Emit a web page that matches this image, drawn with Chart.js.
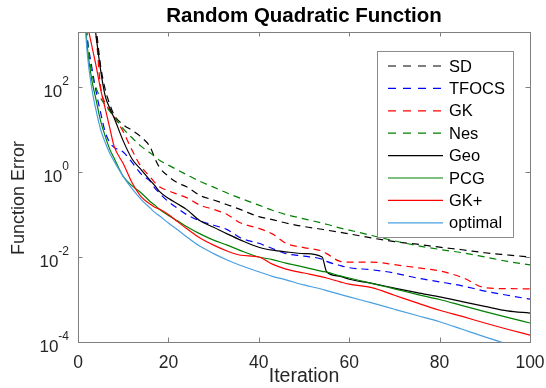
<!DOCTYPE html>
<html>
<head>
<meta charset="utf-8">
<script src="https://cdn.jsdelivr.net/npm/chart.js@4"></script>
<style>
html, body { margin: 0; padding: 0; background: #fff; }
#wrap { width: 546px; height: 388px; }
</style>
</head>
<body>
<div id="wrap"><canvas id="chartFuncion" width="546" height="388"></canvas></div>
<script>
// Datos (error de la función por iteración)
const iteraciones = [1, 2, 3, 4, 5, 6, 7, 8, 10, 12, 14, 16, 17, 18, 20, 22, 24, 27, 30, 33, 36, 40, 43, 46, 50, 54, 55, 58, 60, 65, 70, 75, 80, 85, 90, 95, 100];

const sd = [1e6, 1e5, 1.6e4, 2.5e3, 316, 89, 40, 22, 13, 9.5, 6.6, 3.8, 2.1, 1.3, 0.79, 0.56, 0.45, 0.28, 0.22, 0.17, 0.13, 0.089, 0.076, 0.063, 0.052, 0.045, 0.043, 0.038, 0.035, 0.028, 0.023, 0.020, 0.017, 0.0148, 0.0126, 0.0112, 0.010];
const tfocs = [3.2e4, 1.6e3, 316, 79, 25, 8.9, 5.0, 3.8, 2.95, 1.66, 0.89, 0.60, 0.42, 0.32, 0.20, 0.141, 0.10, 0.071, 0.056, 0.044, 0.028, 0.021, 0.0158, 0.012, 0.0105, 0.0089, 0.0079, 0.0063, 0.0056, 0.0050, 0.0042, 0.0032, 0.0026, 0.0021, 0.00158, 0.00126, 0.00102];
const gk = [1e6, 1e5, 1e4, 1.6e3, 100, 42, 29, 20, 8.9, 3.2, 1.32, 0.76, 0.56, 0.45, 0.36, 0.30, 0.25, 0.166, 0.132, 0.10, 0.063, 0.047, 0.035, 0.021, 0.0166, 0.0138, 0.012, 0.0079, 0.0076, 0.0076, 0.0066, 0.0056, 0.0047, 0.0033, 0.0019, 0.0018, 0.00178];
const nes = [3.2e4, 1.6e3, 224, 95, 55, 38, 27, 20, 10.5, 6.3, 4.0, 2.8, 2.3, 1.9, 1.45, 1.12, 0.87, 0.60, 0.44, 0.32, 0.24, 0.166, 0.126, 0.10, 0.079, 0.063, 0.059, 0.048, 0.043, 0.032, 0.024, 0.0186, 0.0151, 0.0126, 0.010, 0.0079, 0.0065];
const geo = [1e6, 1e5, 1e4, 1.6e3, 250, 63, 32, 18.6, 5.4, 2.0, 1.12, 0.63, 0.48, 0.35, 0.24, 0.178, 0.132, 0.071, 0.050, 0.035, 0.025, 0.017, 0.0145, 0.0132, 0.012, 0.010, 0.0045, 0.0035, 0.0030, 0.0024, 0.00186, 0.00145, 0.00115, 0.00089, 0.00069, 0.00054, 0.00048];
const pcg = [3.2e4, 1e3, 158, 50, 16, 7.1, 3.5, 2.1, 0.79, 0.47, 0.32, 0.20, 0.166, 0.132, 0.095, 0.071, 0.052, 0.035, 0.025, 0.019, 0.0141, 0.010, 0.0087, 0.0072, 0.0058, 0.0046, 0.0044, 0.0036, 0.0032, 0.0024, 0.00178, 0.00132, 0.0010, 0.00072, 0.00052, 0.00038, 0.00028];
const gkPlus = [1e5, 4e3, 1e3, 316, 89, 32, 11.2, 4.0, 1.58, 0.55, 0.26, 0.174, 0.148, 0.135, 0.10, 0.068, 0.047, 0.028, 0.019, 0.0138, 0.011, 0.010, 0.0068, 0.0052, 0.0042, 0.0034, 0.0032, 0.0026, 0.0023, 0.0019, 0.00126, 0.00083, 0.00056, 0.0004, 0.00028, 0.0002, 0.000145];
const optimal = [3.2e4, 708, 100, 28, 10, 5.0, 2.8, 1.78, 0.79, 0.40, 0.224, 0.141, 0.112, 0.093, 0.063, 0.044, 0.030, 0.0178, 0.012, 0.0085, 0.0063, 0.0045, 0.0035, 0.0029, 0.0022, 0.00174, 0.00162, 0.00132, 0.00115, 0.00083, 0.00059, 0.00042, 0.0003, 0.0002, 0.000132, 0.000089, 0.000063];

const nombres = ['SD', 'TFOCS', 'GK', 'Nes', 'Geo', 'PCG', 'GK+', 'optimal'];
const valores = [sd, tfocs, gk, nes, geo, pcg, gkPlus, optimal];
const colores = ['#000000', '#0000ff', '#ff0000', '#008000', '#000000', '#008000', '#ff0000', '#4a9fe0'];
const discontinua = [true, true, true, true, false, false, false, false];

const xTicks = [0, 20, 40, 60, 80, 100];
const yTicks = [1e-4, 1e-2, 1, 1e2];
const yExponentes = ['-4', '-2', '0', '2'];

const FUENTE = '"Liberation Sans", Arial, sans-serif';
const DASH = [7, 5];

// Marco, ticks, textos y leyenda estilo MATLAB
const marcoPlugin = {
    id: 'marco',
    afterDatasetsDraw(chart) {
        const { ctx, chartArea: a, scales } = chart;
        const sx = scales.x, sy = scales.y;
        ctx.save();

        // caja de ejes
        ctx.strokeStyle = '#7f7f7f';
        ctx.lineWidth = 1;
        ctx.strokeRect(a.left + 0.5, a.top + 0.5, a.right - a.left, a.bottom - a.top);

        const tl = 4.5;
        ctx.beginPath();
        xTicks.forEach(v => {
            const px = Math.round(sx.getPixelForValue(v)) + 0.5;
            ctx.moveTo(px, a.bottom); ctx.lineTo(px, a.bottom - tl);
            ctx.moveTo(px, a.top); ctx.lineTo(px, a.top + tl);
        });
        yTicks.forEach(v => {
            const py = Math.round(sy.getPixelForValue(v)) + 0.5;
            ctx.moveTo(a.left, py); ctx.lineTo(a.left + tl, py);
            ctx.moveTo(a.right, py); ctx.lineTo(a.right - tl, py);
        });
        ctx.stroke();

        // etiquetas eje x
        ctx.fillStyle = '#262626';
        ctx.font = '17.5px ' + FUENTE;
        ctx.textAlign = 'center';
        ctx.textBaseline = 'middle';
        xTicks.forEach(v => {
            ctx.fillText(String(v), sx.getPixelForValue(v), a.bottom + 21);
        });

        // etiquetas eje y (10^n)
        yTicks.forEach((v, i) => {
            const py = sy.getPixelForValue(v);
            ctx.font = '17px ' + FUENTE;
            const wBase = ctx.measureText('10').width;
            ctx.font = '12px ' + FUENTE;
            const wExp = ctx.measureText(yExponentes[i]).width;
            const right = a.left - 9;
            ctx.textAlign = 'left';
            ctx.font = '17px ' + FUENTE;
            ctx.fillText('10', right - wExp - wBase, py + 5);
            ctx.font = '12px ' + FUENTE;
            ctx.fillText(yExponentes[i], right - wExp, py - 5);
        });

        // títulos de ejes
        ctx.font = '19.5px ' + FUENTE;
        ctx.textAlign = 'center';
        ctx.fillText('Iteration', (a.left + a.right) / 2, 377);
        ctx.save();
        ctx.translate(19, 198);
        ctx.rotate(-Math.PI / 2);
        ctx.font = '18px ' + FUENTE;
        ctx.fillText('Function Error', 0, 0);
        ctx.restore();

        // título
        ctx.fillStyle = '#000';
        ctx.font = 'bold 20.5px ' + FUENTE;
        ctx.fillText('Random Quadratic Function', (a.left + a.right) / 2, 16);

        // leyenda
        const lx = 377.5, ly = 51.5, lw = 136, lh = 186;
        ctx.fillStyle = '#fff';
        ctx.fillRect(lx, ly, lw, lh);
        ctx.strokeStyle = '#8c8c8c';
        ctx.lineWidth = 1;
        ctx.strokeRect(lx, ly, lw, lh);
        ctx.font = '16.5px ' + FUENTE;
        ctx.textAlign = 'left';
        chart.data.datasets.forEach((ds, i) => {
            const ry = 66 + i * 22.4;
            ctx.strokeStyle = ds.borderColor;
            ctx.lineWidth = 1.2;
            ctx.setLineDash(ds.borderDash.length ? [8, 7] : []);
            ctx.beginPath();
            ctx.moveTo(388, ry); ctx.lineTo(443, ry);
            ctx.stroke();
            ctx.setLineDash([]);
            ctx.fillStyle = '#000';
            ctx.fillText(ds.label, 449, ry + 1);
        });

        ctx.restore();
    }
};

const ctx = document.getElementById('chartFuncion');
new Chart(ctx, {
    type: 'line',
    data: {
        datasets: nombres.map((nombre, i) => ({
            label: nombre,
            data: iteraciones.map((it, k) => ({ x: it, y: valores[i][k] })),
            borderColor: colores[i],
            borderWidth: 1.2,
            borderDash: discontinua[i] ? DASH : [],
            pointRadius: 0,
            fill: false,
            cubicInterpolationMode: 'monotone',
            order: nombres.length - i
        }))
    },
    options: {
        responsive: false,
        animation: false,
        layout: { padding: { left: 78, right: 16, top: 32, bottom: 46 } },
        scales: {
            x: { type: 'linear', display: false, min: 0, max: 100 },
            y: { type: 'logarithmic', display: false, min: 1e-4, max: 1968 }
        },
        plugins: {
            legend: { display: false },
            tooltip: { enabled: false }
        }
    },
    plugins: [marcoPlugin]
});
</script>
</body>
</html>
